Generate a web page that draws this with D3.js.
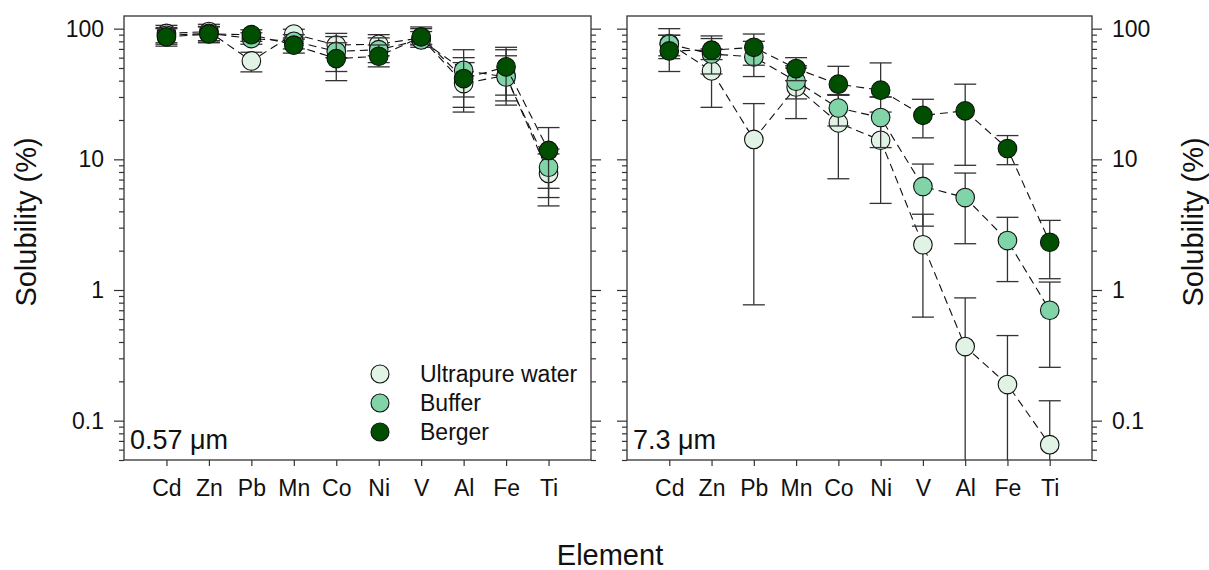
<!DOCTYPE html>
<html>
<head>
<meta charset="utf-8">
<script src="https://cdn.jsdelivr.net/npm/d3@7"></script>
<style>
  body { margin: 0; background: #fff; }
  text { font-family: "Liberation Sans", Arial, sans-serif; fill: #111; }
</style>
</head>
<body>
<script>
var elements = ['Cd', 'Zn', 'Pb', 'Mn', 'Co', 'Ni', 'V', 'Al', 'Fe', 'Ti'];
var seriesNames = ['Ultrapure water', 'Buffer', 'Berger'];
var seriesColors = ['#e0f3e5', '#80d4a8', '#004f00'];
var yTicks = [0.1, 1, 10, 100];

// 0.57 um panel
var fineWater    = [92, 95, 56.6, 91, 75, 76, 85, 38, 44, 7.8];
var fineWaterLo  = [78, 81, 46.7, 83, 60, 62, 75, 23, 26, 4.4];
var fineWaterHi  = [106, 108, 66, 99, 92, 90, 100, 55, 62, 11];
var fineBuffer   = [89, 92, 84, 80, 67, 69, 82, 48, 42.7, 8.7];
var fineBufferLo = [76, 79, 76, 70, 47, 55, 72, 30, 28, 5.1];
var fineBufferHi = [102, 104, 93, 90, 87, 85, 95, 69, 69, 12];
var fineBerger   = [86.5, 91, 90, 74.8, 59, 61.5, 86.5, 41.5, 51, 11.7];
var fineBergerLo = [73.5, 78, 80, 65, 40, 51, 76, 25, 31, 6.0];
var fineBergerHi = [100, 103, 98, 85, 78, 75, 103, 60, 72, 17.5];

// 7.3 um panel (0.001 = bar runs off the bottom of the axis)
var coarseWater    = [77, 47.5, 14.2, 35.8, 19, 14, 2.22, 0.369, 0.189, 0.0655];
var coarseWaterLo  = [59, 25, 0.77, 20.5, 7.1, 4.6, 0.62, 0.001, 0.001, 0.001];
var coarseWaterHi  = [100, 70, 26.7, 50, 31, 23, 3.8, 0.87, 0.448, 0.142];
var coarseBuffer   = [76, 64, 60.8, 39.6, 24.7, 20.9, 6.2, 5.1, 2.39, 0.70];
var coarseBufferLo = [62, 45, 43, 29, 18, 12.3, 3.08, 2.26, 1.16, 0.256];
var coarseBufferHi = [89, 84, 80, 52, 31, 30, 9.2, 7.85, 3.6, 1.15];
var coarseBerger   = [67.6, 68.5, 72, 49.5, 37.6, 33.8, 21.7, 23.5, 12.1, 2.32];
var coarseBergerLo = [47, 58, 52.5, 40, 31.3, 30, 14.6, 9.0, 9.1, 1.22];
var coarseBergerHi = [89, 88, 91, 60, 51.5, 54.7, 28.8, 37.6, 15.2, 3.41];

var svgWidth = 1209, svgHeight = 570;
var plotTop = 16, plotBottom = 460;

var svg = d3.select('body').append('svg')
  .attr('width', svgWidth)
  .attr('height', svgHeight);

var y = d3.scaleLog().domain([0.05, 125]).range([plotBottom, plotTop]);

var minorTicks = [];
[0.01, 0.1, 1, 10].forEach(function(b) {
  for (var k = 2; k < 10; k++) {
    var v = +(b * k).toPrecision(3);
    if (v >= 0.05 && v <= 125) minorTicks.push(v);
  }
});

var panels = [
  { label: '0.57 \u03bcm', left: 124, right: 591, labelSide: 'left',
    vals: [fineWater, fineBuffer, fineBerger],
    lo: [fineWaterLo, fineBufferLo, fineBergerLo],
    hi: [fineWaterHi, fineBufferHi, fineBergerHi] },
  { label: '7.3 \u03bcm', left: 627, right: 1092, labelSide: 'right',
    vals: [coarseWater, coarseBuffer, coarseBerger],
    lo: [coarseWaterLo, coarseBufferLo, coarseBergerLo],
    hi: [coarseWaterHi, coarseBufferHi, coarseBergerHi] }
];

function styleAxis(sel) {
  sel.select('.domain').remove();
  sel.selectAll('line').attr('stroke', '#333').attr('stroke-width', 1.2);
  sel.selectAll('text').attr('fill', '#111').style('font-size', '23px');
}

panels.forEach(function(p, pi) {
  var x = d3.scalePoint().domain(elements).range([p.left, p.right]).padding(1);
  var g = svg.append('g');

  svg.append('clipPath').attr('id', 'clip' + pi)
    .append('rect')
    .attr('x', p.left).attr('y', plotTop)
    .attr('width', p.right - p.left).attr('height', plotBottom - plotTop);

  // y axes on both sides, labels only on one
  var fmt = d3.format('~g');
  var none = function() { return ''; };

  var leftAx = g.append('g').attr('transform', 'translate(' + p.left + ',0)')
    .call(d3.axisLeft(y).tickValues(yTicks).tickSize(10).tickPadding(10)
      .tickFormat(p.labelSide == 'left' ? fmt : none));
  styleAxis(leftAx);
  var leftMinor = g.append('g').attr('transform', 'translate(' + p.left + ',0)')
    .call(d3.axisLeft(y).tickValues(minorTicks).tickSize(5).tickFormat(none));
  styleAxis(leftMinor);

  var rightAx = g.append('g').attr('transform', 'translate(' + p.right + ',0)')
    .call(d3.axisRight(y).tickValues(yTicks).tickSize(10).tickPadding(10)
      .tickFormat(p.labelSide == 'right' ? fmt : none));
  styleAxis(rightAx);
  var rightMinor = g.append('g').attr('transform', 'translate(' + p.right + ',0)')
    .call(d3.axisRight(y).tickValues(minorTicks).tickSize(5).tickFormat(none));
  styleAxis(rightMinor);

  var xAx = g.append('g').attr('transform', 'translate(0,' + plotBottom + ')')
    .call(d3.axisBottom(x).tickSize(6).tickPadding(14));
  styleAxis(xAx);

  // frame
  g.append('rect')
    .attr('x', p.left).attr('y', plotTop)
    .attr('width', p.right - p.left).attr('height', plotBottom - plotTop)
    .attr('fill', 'none').attr('stroke', '#333').attr('stroke-width', 1.3);

  var plot = g.append('g').attr('clip-path', 'url(#clip' + pi + ')');

  var line = d3.line()
    .x(function(d, i) { return x(elements[i]); })
    .y(function(d) { return y(d); });

  seriesNames.forEach(function(name, s) {
    var sg = plot.append('g').attr('class', 'series');
    sg.append('path')
      .datum(p.vals[s])
      .attr('d', line)
      .attr('fill', 'none')
      .attr('stroke', '#111')
      .attr('stroke-width', 1.1)
      .attr('stroke-dasharray', '8,5');

    var bars = sg.selectAll('.err').data(elements).enter().append('g').attr('class', 'err')
      .attr('stroke', '#333').attr('stroke-width', 1.3);
    bars.append('line')
      .attr('x1', function(d) { return x(d); })
      .attr('x2', function(d) { return x(d); })
      .attr('y1', function(d, i) { return y(Math.max(p.lo[s][i], 0.01)); })
      .attr('y2', function(d, i) { return y(p.hi[s][i]); });
    bars.append('line')
      .attr('x1', function(d) { return x(d) - 11; })
      .attr('x2', function(d) { return x(d) + 11; })
      .attr('y1', function(d, i) { return y(p.hi[s][i]); })
      .attr('y2', function(d, i) { return y(p.hi[s][i]); });
    bars.append('line')
      .attr('x1', function(d) { return x(d) - 11; })
      .attr('x2', function(d) { return x(d) + 11; })
      .attr('y1', function(d, i) { return y(Math.max(p.lo[s][i], 0.01)); })
      .attr('y2', function(d, i) { return y(Math.max(p.lo[s][i], 0.01)); });

    sg.selectAll('.pt').data(p.vals[s]).enter().append('circle')
      .attr('class', 'pt')
      .attr('cx', function(d, i) { return x(elements[i]); })
      .attr('cy', function(d) { return y(d); })
      .attr('r', 9.3)
      .attr('fill', seriesColors[s])
      .attr('stroke', '#111')
      .attr('stroke-width', 1.1);
  });

  g.append('text')
    .attr('x', p.left + 6)
    .attr('y', plotBottom - 11)
    .style('font-size', '27px')
    .text(p.label);
});

// legend inside the first panel
var legend = svg.append('g');
seriesNames.forEach(function(name, s) {
  var ly = 374 + s * 29;
  legend.append('circle')
    .attr('cx', 380).attr('cy', ly).attr('r', 9)
    .attr('fill', seriesColors[s]).attr('stroke', '#111').attr('stroke-width', 1.1);
  legend.append('text')
    .attr('x', 420).attr('y', ly + 8)
    .style('font-size', '23px')
    .text(name);
});

// axis titles
svg.append('text')
  .attr('x', 610).attr('y', 565)
  .attr('text-anchor', 'middle')
  .style('font-size', '29px')
  .text('Element');

svg.append('text')
  .attr('transform', 'translate(36,222) rotate(-90)')
  .attr('text-anchor', 'middle')
  .style('font-size', '29px')
  .text('Solubility (%)');

svg.append('text')
  .attr('transform', 'translate(1203,222) rotate(-90)')
  .attr('text-anchor', 'middle')
  .style('font-size', '29px')
  .text('Solubility (%)');
</script>
</body>
</html>
